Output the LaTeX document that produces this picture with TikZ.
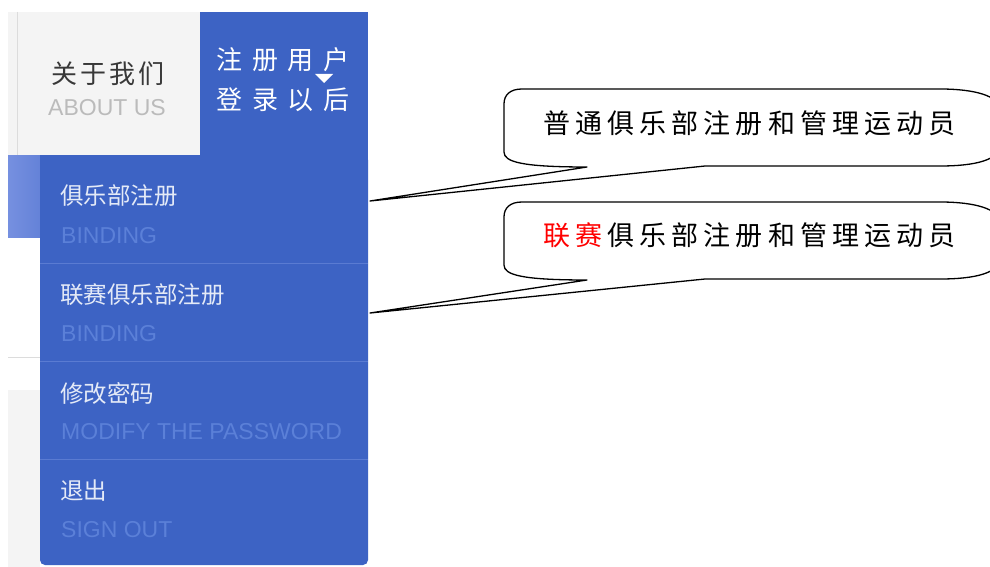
\documentclass[tikz,border=0pt]{standalone}
\usepackage{fontspec}
\setmainfont{Liberation Sans}
\newfontfamily\cjk{Noto Sans CJK SC}
\newfontfamily\cjkcall[LetterSpace=19]{Noto Sans CJK SC}
\newfontfamily\cjkhead[LetterSpace=38]{Noto Sans CJK SC}
\newfontfamily\cjkabout[LetterSpace=12]{Noto Sans CJK SC}
\definecolor{menublue}{HTML}{3D63C4}
\definecolor{lightbarL}{HTML}{7690E0}
\definecolor{lightbarR}{HTML}{6482D8}
\definecolor{subtext}{HTML}{5B80D8}
\definecolor{itemtext}{HTML}{E4EAF7}
\definecolor{sepline}{HTML}{5A7BD2}
\definecolor{greypanel}{HTML}{F4F4F4}
\definecolor{greyline}{HTML}{DCDCDC}
\definecolor{abouttext}{HTML}{BBBBBB}
\definecolor{aboutcn}{HTML}{383838}
\begin{document}
\begin{tikzpicture}[x=1pt,y=-1pt,
  cn/.style={anchor=west,inner sep=0pt,text=itemtext,font=\cjk\fontsize{23.5}{28}\selectfont},
  en/.style={anchor=west,inner sep=0pt,text=subtext,font=\fontsize{23}{28}\selectfont},
  sep/.style={draw=sepline,line width=0.8pt},
  callout/.style={draw=black,fill=white,line width=1.3pt,line join=round},
  calltext/.style={anchor=west,inner sep=0pt,text=black,font=\cjkcall\fontsize{27}{32}\selectfont}]
\useasboundingbox (0,0) rectangle (990,567);
\fill[white] (0,0) rectangle (990,567);
% left background parts
\fill[greypanel] (8,12) rectangle (200,155);
\draw[greyline,line width=0.8pt] (17,12) -- (17,155);
\shade[left color=lightbarL,right color=lightbarR] (8,155) rectangle (40,237);
\draw[greyline,line width=0.8pt] (8,357) -- (40,357);
\fill[greypanel] (8,390) rectangle (40,567);
% header and dropdown
\fill[menublue] (200,12) rectangle (368,155);
\fill[menublue,rounded corners=5pt] (40,155) -- (368,155) -- (368,565) -- (40,565) -- cycle;
\fill[menublue] (40,155) rectangle (368,300);
\node[inner sep=0pt,minimum width=328pt,minimum height=410pt,anchor=north west] (menu) at (40,155) {};
\draw[sep] (40,263) -- (368,263);
\draw[sep] (40,361) -- (368,361);
\draw[sep] (40,459) -- (368,459);
% header texts
\node[anchor=west,inner sep=0pt,text=aboutcn,font=\cjkabout\fontsize{26}{30}\selectfont] (about) at (51,74) {关于我们};
\node[anchor=west,inner sep=0pt,text=abouttext,font=\fontsize{23}{28}\selectfont] (aboutus) at (48,108) {ABOUT US};
\node[anchor=west,inner sep=0pt,text=white,font=\cjkhead\fontsize{26}{30}\selectfont] (reg1) at (216,60) {注册用户};
\node[anchor=west,inner sep=0pt,text=white,font=\cjkhead\fontsize{26}{30}\selectfont] (reg2) at (216,100) {登录以后};
\fill[white] (315,74) -- (333,74) -- (324,83) -- cycle;
% menu items
\node[cn] (club) at (60,196) {俱乐部注册};
\node[en] (clubEn) at (61,236) {BINDING};
\node[cn] (league) at (60,295) {联赛俱乐部注册};
\node[en] (leagueEn) at (61,334) {BINDING};
\node[cn] (pwd) at (60,393) {修改密码};
\node[en] (pwdEn) at (61,432) {MODIFY THE PASSWORD};
\node[cn] (logout) at (60,491) {退出};
\node[en] (logoutEn) at (61,530) {SIGN OUT};
% callouts
\coordinate (tip1) at (370,201);
\coordinate (tip2) at (370,313);
\draw[callout] (504,104) -- (504,152) .. controls (504,162) and (522,167) .. (587,167)
  -- (tip1) -- (705,166) -- (940,166) .. controls (975,166) and (1000,160) .. (1000,145)
  -- (1000,110) .. controls (1000,96) and (975,89) .. (940,89)
  -- (522,89) .. controls (510,89) and (504,95) .. (504,104) -- cycle;
\draw[callout] (504,217) -- (504,265) .. controls (504,275) and (522,280) .. (587,280)
  -- (tip2) -- (705,279) -- (940,279) .. controls (975,279) and (1000,273) .. (1000,258)
  -- (1000,223) .. controls (1000,209) and (975,202) .. (940,202)
  -- (522,202) .. controls (510,202) and (504,208) .. (504,217) -- cycle;
\node[calltext] (note1) at (543,123) {普通俱乐部注册和管理运动员};
\node[calltext] (note2) at (543,235) {\textcolor{red}{联赛}\hspace{5.1pt}俱乐部注册和管理运动员};
\end{tikzpicture}
\end{document}
